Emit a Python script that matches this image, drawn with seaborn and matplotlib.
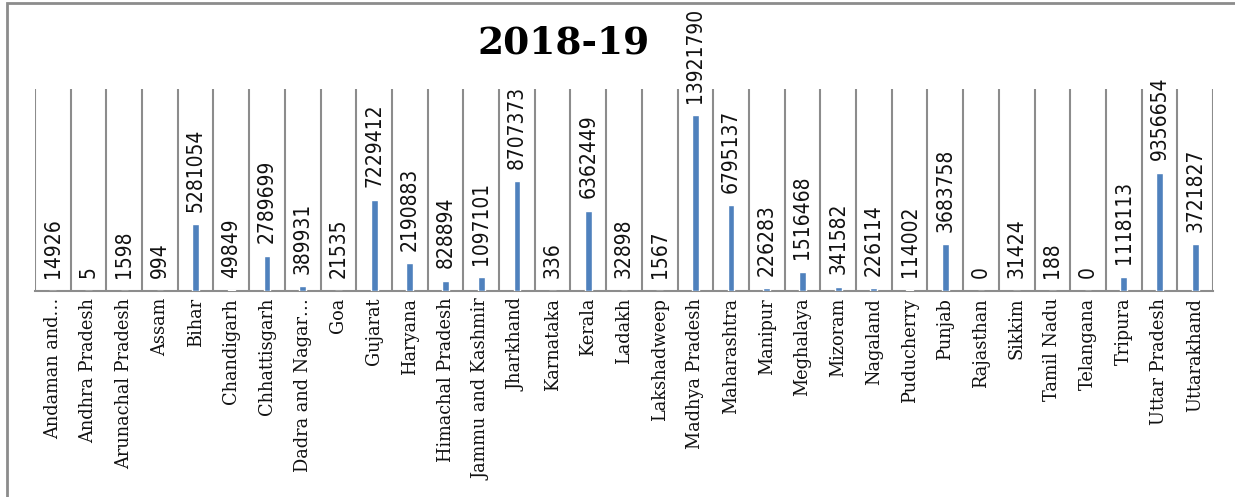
import numpy as np
import pandas as pd
import matplotlib
matplotlib.use("Agg")
import matplotlib.pyplot as plt
import seaborn as sns
from matplotlib.patches import Rectangle

states = ["Andaman and…", "Andhra Pradesh", "Arunachal Pradesh", "Assam", "Bihar",
          "Chandigarh", "Chhattisgarh", "Dadra and Nagar…", "Goa", "Gujarat",
          "Haryana", "Himachal Pradesh", "Jammu and Kashmir", "Jharkhand", "Karnataka",
          "Kerala", "Ladakh", "Lakshadweep", "Madhya Pradesh", "Maharashtra",
          "Manipur", "Meghalaya", "Mizoram", "Nagaland", "Puducherry",
          "Punjab", "Rajasthan", "Sikkim", "Tamil Nadu", "Telangana",
          "Tripura", "Uttar Pradesh", "Uttarakhand"]
values = [14926, 5, 1598, 994, 5281054,
          49849, 2789699, 389931, 21535, 7229412,
          2190883, 828894, 1097101, 8707373, 336,
          6362449, 32898, 1567, 13921790, 6795137,
          226283, 1516468, 341582, 226114, 114002,
          3683758, 0, 31424, 188, 0,
          1118113, 9356654, 3721827]
title = "2018-19"

df = pd.DataFrame({"state": states, "value": values})

sns.set_theme(style="white")
W, H = 1235, 497
fig = plt.figure(figsize=(W / 100, H / 100), dpi=100)
ax = fig.add_axes([35 / W, 1 - 291 / H, (1213 - 35) / W, (291 - 89) / H])

sns.barplot(data=df, x="state", y="value", color="#4F81BD", width=0.19,
            saturation=1, ax=ax, zorder=3)
ax.set_ylim(0, 16_000_000)
ax.set_xlim(-0.5, len(states) - 0.5)

ax.bar_label(ax.containers[0], labels=[str(v) for v in values], rotation=90,
             padding=9, fontsize=15, family="DejaVu Sans", fontstretch="condensed",
             color="#111111", clip_on=False)

ax.set_xticks(np.arange(-0.5, len(states)), minor=True)
ax.grid(which="minor", axis="x", color="#8c8c8c", linewidth=1.5, zorder=0)
ax.grid(which="major", visible=False)
ax.tick_params(axis="x", which="both", length=0, pad=5)
ax.set_xticks(np.arange(len(states)))
ax.set_xticklabels(states, rotation=90, fontsize=12.8, family="DejaVu Serif",
                   color="#111111", va="top", ha="center")
ax.set_yticks([])
ax.set_xlabel("")
ax.set_ylabel("")
for s in ["left", "right", "top"]:
    ax.spines[s].set_visible(False)
ax.spines["bottom"].set_color("#8c8c8c")
ax.spines["bottom"].set_linewidth(1.5)

fig.text(564 / W, 1 - 43 / H, title, ha="center", va="center", fontsize=27,
         fontweight="bold", family="DejaVu Serif", color="#000000")

fig.patches.append(Rectangle((7 / W, -0.1), 1.2, 1 - 3 / H + 0.1, transform=fig.transFigure,
                             fill=False, edgecolor="#8c8c8c", linewidth=2))

fig.savefig("out.png", dpi=100)
